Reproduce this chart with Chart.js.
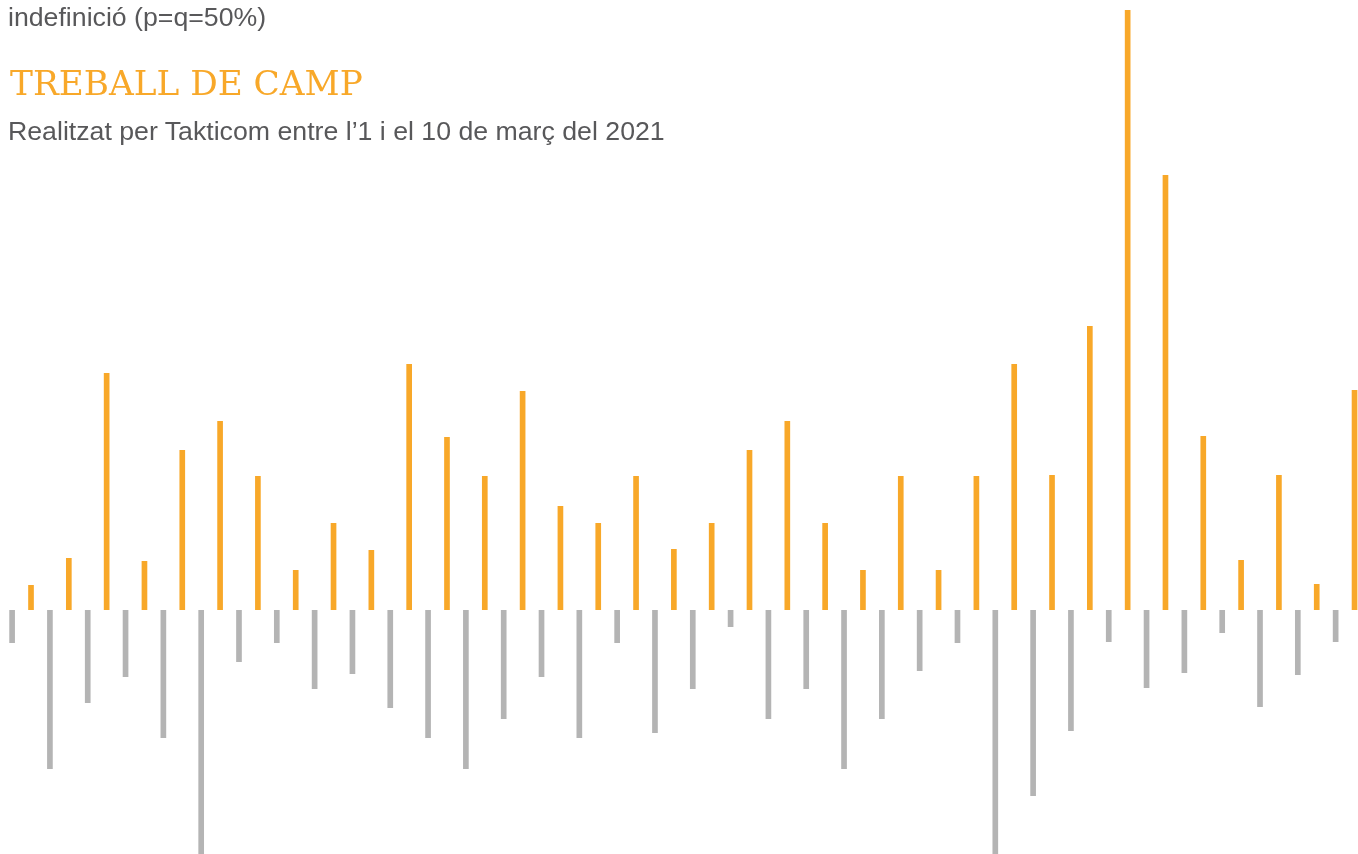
<!DOCTYPE html>
<html>
<head>
<meta charset="utf-8">
<script src="https://cdn.jsdelivr.net/npm/chart.js@4.4.1/dist/chart.umd.min.js"></script>
<style>
  html, body { margin: 0; padding: 0; background: #fff; overflow: hidden; }
  #wrap { position: relative; width: 1358px; height: 854px; overflow: hidden; }
  #chart { position: absolute; left: 0; top: 0; }
  .txt { position: absolute; white-space: nowrap; line-height: 1; }
  #note { left: 8px; top: 2px; font: 26.7px "Liberation Sans", Arial, sans-serif; color: #58585a; }
  #title { left: 10px; top: 63px; font: 34.3px "DejaVu Serif", serif; color: #f8a829; }
  #sub { left: 8px; top: 116px; font: 26.7px "Liberation Sans", Arial, sans-serif; color: #58585a; }
</style>
</head>
<body>
<div id="wrap">
  <canvas id="chart" width="1364" height="854"></canvas>
  <div class="txt" id="note">indefinició (p=q=50%)</div>
  <div class="txt" id="title">TREBALL DE CAMP</div>
  <div class="txt" id="sub">Realitzat per Takticom entre l’1 i el 10 de març del 2021</div>
</div>
<script>
// dades llegides del gràfic
const categories = ['1', '2', '3', '4', '5', '6', '7', '8', '9', '10', '11', '12',
  '13', '14', '15', '16', '17', '18', '19', '20', '21', '22', '23', '24',
  '25', '26', '27', '28', '29', '30', '31', '32', '33', '34', '35', '36'];

const positius = [25, 52, 237, 49, 160, 189, 134, 40, 87, 60, 246, 173,
  134, 219, 104, 87, 134, 61, 87, 160, 189, 87, 40, 134,
  40, 134, 246, 135, 284, 600, 435, 174, 50, 135, 26, 220];

const negatius = [-33, -159, -93, -67, -128, -300, -52, -33, -79, -64, -98, -128,
  -159, -109, -67, -128, -33, -123, -79, -17, -109, -79, -159, -109,
  -61, -33, -300, -186, -121, -32, -78, -63, -23, -97, -65, -32];

const yMin = -244;
const yMax = 610;

const ctx = document.getElementById('chart').getContext('2d');
new Chart(ctx, {
  type: 'bar',
  data: {
    labels: categories,
    datasets: [
      {
        label: 'negatius',
        data: negatius,
        backgroundColor: '#b4b4b4',
        borderWidth: 0,
        categoryPercentage: 1,
        barPercentage: 0.3
      },
      {
        label: 'positius',
        data: positius,
        backgroundColor: '#f8a829',
        borderWidth: 0,
        categoryPercentage: 1,
        barPercentage: 0.3
      }
    ]
  },
  options: {
    responsive: false,
    animation: false,
    devicePixelRatio: 1,
    layout: { padding: { left: 2.65, right: 0, top: 0, bottom: 0 } },
    plugins: {
      legend: { display: false },
      tooltip: { enabled: false }
    },
    scales: {
      x: { display: false, grid: { display: false } },
      y: { display: false, min: yMin, max: yMax, grid: { display: false } }
    }
  }
});
</script>
</body>
</html>
